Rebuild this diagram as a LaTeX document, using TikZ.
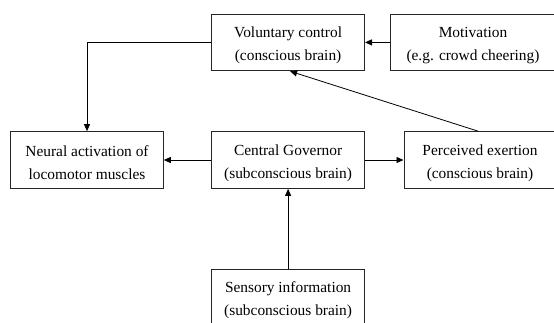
\documentclass[tikz,border=0pt]{standalone}
\usepackage{fontspec}
\setmainfont{Liberation Serif}
\usetikzlibrary{arrows.meta}
\begin{document}
\begin{tikzpicture}[x=1pt,y=-1pt,
  box/.style={draw=black!85, line width=1pt, inner sep=0pt, minimum height=56.7pt},
  txt/.style={inner sep=0pt, align=center, font=\fontsize{15.4}{23}\selectfont},
  conn/.style={line width=0.8pt, -{Triangle[length=7pt,width=6pt]}}]
\useasboundingbox (0,0) rectangle (554,322);
\clip (0,0) rectangle (554,322);
\node[box, minimum width=152.8pt] (vc) at (288.1,42.4) {};
\node[box, minimum width=164.6pt] (mot) at (473,42.4) {};
\node[box, minimum width=152.6pt] (neu) at (87,160) {};
\node[box, minimum width=153pt] (cg) at (288.1,160) {};
\node[box, minimum width=152pt] (pe) at (480,160) {};
\node[box, minimum width=153pt] (si) at (288.1,297.5) {};
\node[txt] (vct) at ([yshift=-3pt]vc.center) {Voluntary control\\(conscious brain)};
\node[txt] (mott) at ([yshift=-3pt]mot.center) {Motivation\\(e.g. crowd cheering)};
\node[txt] (neut) at ([yshift=-3pt]neu.center) {Neural activation of\\locomotor muscles};
\node[txt] (cgt) at ([yshift=-3pt]cg.center) {Central Governor\\(subconscious brain)};
\node[txt] (pet) at ([yshift=-3pt]pe.center) {Perceived exertion\\(conscious brain)};
\node[txt] (sit) at ([yshift=-3pt]si.center) {Sensory information\\(subconscious brain)};
\draw[conn] (mot.west) -- (vc.east);
\draw[conn] (vc.west) -| (neu.north);
\draw[conn] (cg.west) -- (neu.east);
\draw[conn] (cg.east) -- (pe.west);
\draw[conn] ([xshift=-2pt]pe.north) -- ([xshift=2pt]vc.south);
\draw[conn] (si.north) -- (cg.south);
\end{tikzpicture}
\end{document}
